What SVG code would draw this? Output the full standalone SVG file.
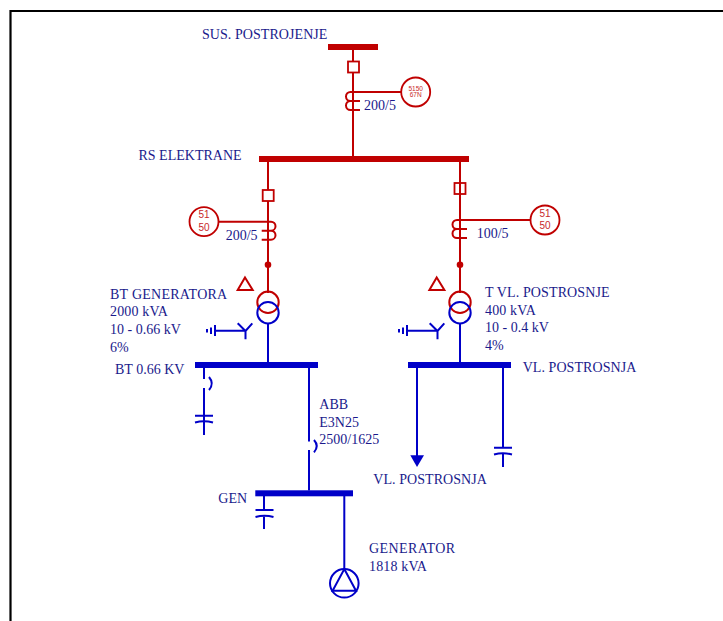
<svg xmlns="http://www.w3.org/2000/svg" width="723" height="621" viewBox="0 0 723 621">
<defs>
<style>
text{font-family:"Liberation Serif","Times New Roman",serif;font-size:14px;fill:#1a1a8c}
.r{fill:none;stroke:#c00000;stroke-width:2}
.b{fill:none;stroke:#0000c8;stroke-width:2}
.rb{fill:#c00000}
.bb{fill:#0000c8}
.rl{font-family:"Liberation Sans",Arial,sans-serif;font-size:10px;fill:#c8282a;text-anchor:middle}
.rs{font-family:"Liberation Sans",Arial,sans-serif;font-size:6.500px;fill:#c8282a;text-anchor:middle}
</style>
<g id="wye"><path class="b" d="M207,329V332.500M211,327.500V334M215,325V336M215,330.700H245.500M237.700,323.300L245.500,331L252.300,323.300M245.500,331V339.300"/></g>
</defs>
<rect width="723" height="621" fill="#fff"/>
<path id="frame" d="M10.500,621V11H723" fill="none" stroke="#000" stroke-width="2.200"/>
<g id="connectors">
<path class="r" d="M353,50V156M268,162V190M268,201V293M460,162V183M460,183V293"/>
<path class="b" d="M268,324V362M460,324V362M204,368V379M204,388V435M309,368V441.500M309,450V490.500M417,368V457M503,368V447.700M503,454V467M264,496V510M264,516.500V529M344.300,496V569"/>
</g>
<g id="bus-sus"><rect class="rb" x="328" y="44" width="50" height="6"/><text x="202" y="38.500" letter-spacing="0.060">SUS. POSTROJENJE</text></g>
<g id="bus-rs"><rect class="rb" x="259" y="156" width="210" height="6"/><text x="138.500" y="160">RS ELEKTRANE</text></g>
<g id="breaker-sus"><rect x="348" y="61.500" width="11" height="11" fill="#fff" stroke="#c00000" stroke-width="1.800"/></g>
<g id="breaker-left"><rect x="262.700" y="190" width="11" height="11" fill="#fff" stroke="#c00000" stroke-width="1.800"/></g>
<g id="breaker-right"><rect x="454.500" y="183" width="11" height="11" fill="none" stroke="#c00000" stroke-width="1.800"/></g>
<g id="ct-sus"><path class="r" d="M402,92H350.500a4.500,4.500 0 0 0 0,9H360M350.500,101a4.500,4.500 0 0 0 0,9H360"/><text x="364" y="110">200/5</text></g>
<g id="relay-sus"><circle cx="415.700" cy="92" r="14.500" fill="#fff" stroke="#c00000" stroke-width="1.800"/><text class="rs" x="415.700" y="90.500">5150</text><text class="rs" x="415.700" y="97">67N</text></g>
<g id="ct-left"><path class="r" d="M218,221.700H271a4.500,4.500 0 0 1 0,9H261.700M271,230.700a4.500,4.500 0 0 1 0,9H261.700"/><text x="225.700" y="240">200/5</text></g>
<g id="relay-left"><circle cx="204" cy="221.700" r="14.500" fill="#fff" stroke="#c00000" stroke-width="1.800"/><text class="rl" x="204" y="218">51</text><text class="rl" x="204" y="231">50</text></g>
<g id="ct-right"><path class="r" d="M531,220H457a4.500,4.500 0 0 0 0,9H467M457,229a4.500,4.500 0 0 0 0,9H467"/><text x="476.700" y="237.700">100/5</text></g>
<g id="relay-right"><circle cx="545" cy="220" r="14.500" fill="#fff" stroke="#c00000" stroke-width="1.800"/><text class="rl" x="545" y="217">51</text><text class="rl" x="545" y="228.700">50</text></g>
<g id="dots"><circle class="rb" cx="268" cy="264.700" r="3.300"/><circle class="rb" cx="460" cy="264.700" r="3.300"/></g>
<g id="tr-left">
<path class="r" d="M245,277.500L252.700,290H237.700Z"/>
<circle class="r" cx="268" cy="302.300" r="10.700"/><circle class="b" cx="268" cy="312.700" r="10.700"/>
<use href="#wye"/>
<text x="110" y="299" letter-spacing="0.250">BT GENERATORA</text><text x="110" y="316" letter-spacing="0.150">2000 kVA</text><text x="110" y="334">10 - 0.66 kV</text><text x="110" y="351.700">6%</text>
</g>
<g id="tr-right">
<path class="r" d="M436.700,277.500L444.400,290H429.400Z"/>
<circle class="r" cx="460" cy="302.300" r="10.700"/><circle class="b" cx="460" cy="312.700" r="10.700"/>
<use href="#wye" x="192"/>
<text x="485" y="296.700" letter-spacing="0.120">T VL. POSTROSNJE</text><text x="485" y="315" letter-spacing="0.150">400 kVA</text><text x="485" y="331.700">10 - 0.4 kV</text><text x="485" y="350">4%</text>
</g>
<g id="bus-bt"><rect class="bb" x="195" y="362" width="123" height="6"/><text x="115" y="374">BT 0.66 KV</text></g>
<g id="bus-vl"><rect class="bb" x="408" y="362" width="103" height="6"/><text x="522.700" y="372.300" letter-spacing="0.060">VL. POSTROSNJA</text></g>
<g id="switch-bt"><path class="b" d="M209,377Q214.500,383.500 209,390"/></g>
<g id="cap-bt"><path class="b" d="M195,415.700H213M195,422.500Q204,420 213,422.500"/></g>
<g id="switch-abb"><path class="b" d="M314,440Q319.500,446 314,452.300"/><text x="319.300" y="409">ABB</text><text x="319.300" y="426.700">E3N25</text><text x="319.300" y="444">2500/1625</text></g>
<g id="load"><path class="bb" d="M410.300,455.300H424L417,467Z"/><text x="373.300" y="484" letter-spacing="0.060">VL. POSTROSNJA</text></g>
<g id="cap-vl"><path class="b" d="M494,447.700H512M494,454.500Q503,452 512,454.500"/></g>
<g id="bus-gen"><rect class="bb" x="255.300" y="490.300" width="97.700" height="6"/><text x="218.300" y="502.700">GEN</text></g>
<g id="cap-gen"><path class="b" d="M255.500,510H273.500M255.500,517Q264.500,514.500 273.500,517"/></g>
<g id="generator"><circle class="b" cx="344.300" cy="583.300" r="14.300"/><path class="b" d="M344.300,569L356,590.700H332.600Z"/><text x="369" y="552.700" letter-spacing="0.400">GENERATOR</text><text x="369" y="570.700" letter-spacing="0.150">1818 kVA</text></g>
</svg>
